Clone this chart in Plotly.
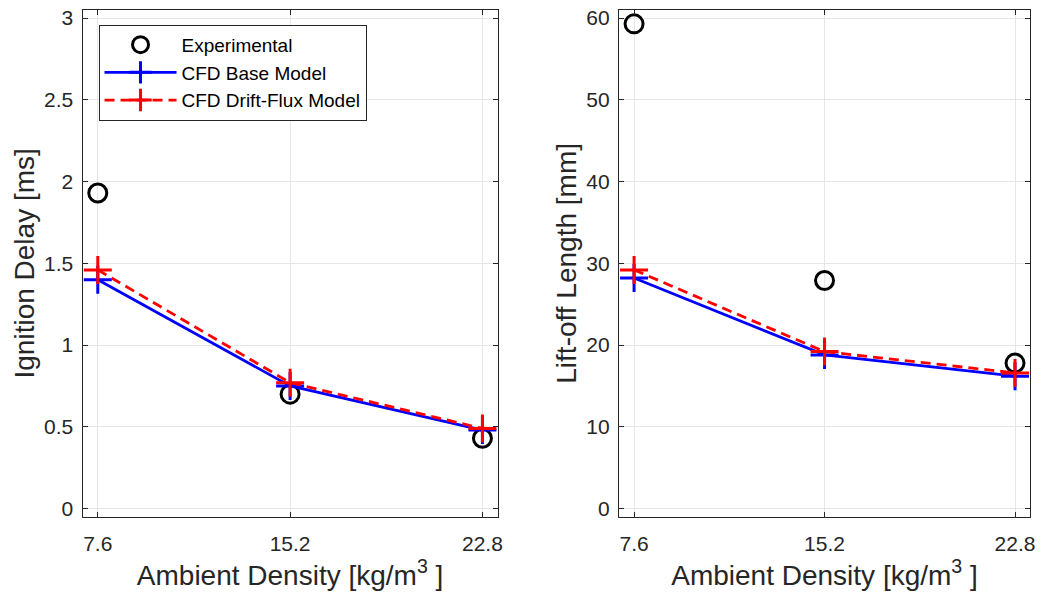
import plotly.graph_objects as go

# ---- data ----
density = [7.6, 15.2, 22.8]
tick_labels = ["7.6", "15.2", "22.8"]

ign_exp = [1.93, 0.70, 0.43]
ign_base = [1.40, 0.75, 0.48]
ign_drift = [1.46, 0.77, 0.49]

lol_exp = [59.3, 27.9, 17.8]
lol_base = [28.2, 18.8, 16.2]
lol_drift = [29.2, 19.2, 16.6]

left_yticks = [0, 0.5, 1, 1.5, 2, 2.5, 3]
left_ylabels = ["0", "0.5", "1", "1.5", "2", "2.5", "3"]
right_yticks = [0, 10, 20, 30, 40, 50, 60]

# ---- styles ----
FONT = "Liberation Sans, Arial, sans-serif"
TXT = "#262626"
GRID = "#e6e6e6"

fig = go.Figure()


def add_series(xa, ya, exp, base, drift, show):
    fig.add_trace(go.Scatter(
        x=density, y=exp, mode="markers", name="Experimental",
        xaxis=xa, yaxis=ya, showlegend=show,
        marker=dict(symbol="circle-open", size=18, color="black",
                    line=dict(width=3, color="black"))))
    fig.add_trace(go.Scatter(
        x=density, y=base, mode="lines+markers", name="CFD Base Model",
        xaxis=xa, yaxis=ya, showlegend=show,
        line=dict(color="#0000ff", width=2.8),
        marker=dict(symbol="cross-thin", size=20, color="#0000ff",
                    line=dict(width=3, color="#0000ff"))))
    fig.add_trace(go.Scatter(
        x=density, y=drift, mode="lines+markers", name="CFD Drift-Flux Model",
        xaxis=xa, yaxis=ya, showlegend=show,
        line=dict(color="#ff0000", width=2.8, dash="10px,6px"),
        marker=dict(symbol="cross-thin", size=20, color="#ff0000",
                    line=dict(width=3, color="#ff0000"))))


add_series("x", "y", ign_exp, ign_base, ign_drift, True)
add_series("x2", "y2", lol_exp, lol_base, lol_drift, False)

W, H = 1047, 593
ydom = [1 - 519 / H, 1 - 7 / H]

axis_common = dict(
    showline=True, linecolor=TXT, linewidth=1.2, mirror="ticks",
    ticks="inside", ticklen=5, tickwidth=1.2, tickcolor=TXT,
    showgrid=True, gridcolor=GRID, gridwidth=1, zeroline=False,
    tickfont=dict(family=FONT, size=21, color=TXT),
)

xtitle = dict(text="Ambient Density [kg/m<sup>3</sup> ]",
              font=dict(family=FONT, size=28, color=TXT), standoff=3)

fig.update_layout(
    width=W, height=H,
    margin=dict(l=0, r=0, t=0, b=0),
    paper_bgcolor="white", plot_bgcolor="white",
    font=dict(family=FONT, color=TXT),
    xaxis=dict(domain=[83 / W, 500 / W], range=[7.0, 23.4],
               tickvals=density, ticktext=tick_labels, title=xtitle,
               anchor="y", ticklabelstandoff=8, **axis_common),
    yaxis=dict(domain=ydom, range=[-0.05, 3.05], tickvals=left_yticks,
               ticktext=left_ylabels, anchor="x", ticklabelstandoff=4,
               title=dict(text="Ignition Delay [ms]",
                          font=dict(family=FONT, size=28, color=TXT),
                          standoff=1),
               **axis_common),
    xaxis2=dict(domain=[622 / W, 1035 / W], range=[7.0, 23.4],
                tickvals=density, ticktext=tick_labels, title=xtitle,
                anchor="y2", ticklabelstandoff=8, **axis_common),
    yaxis2=dict(domain=ydom, range=[-1, 61], tickvals=right_yticks,
                anchor="x2", ticklabelstandoff=4,
                title=dict(text="Lift-off Length [mm]",
                           font=dict(family=FONT, size=28, color=TXT),
                           standoff=1),
                **axis_common),
    legend=dict(x=99 / W, y=1 - 22 / H, xanchor="left", yanchor="top",
                bgcolor="white", bordercolor=TXT, borderwidth=1,
                font=dict(family=FONT, size=19, color="black"),
                itemwidth=72),
    showlegend=True,
)

fig.write_html("out.html")
